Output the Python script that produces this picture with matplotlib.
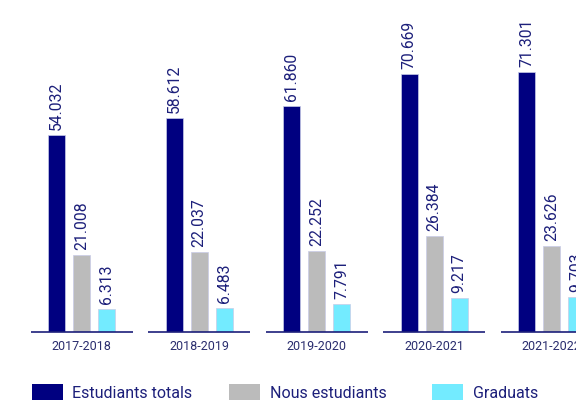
import matplotlib
matplotlib.use("Agg")
import matplotlib.pyplot as plt
from matplotlib.patches import Rectangle
import numpy as np

# ---- data ----
years = ["2017-2018", "2018-2019", "2019-2020", "2020-2021", "2021-2022"]
total_students = [54032, 58612, 61860, 70669, 71301]
new_students = [21008, 22037, 22252, 26384, 23626]
graduates = [6313, 6483, 7791, 9217, 9703]
series_names = ["Estudiants totals", "Nous estudiants", "Graduats"]

colors = ["#000080", "#BBBBBB", "#73EBFF"]
label_color = "#1C1F7A"
plt.rcParams['font.family'] = ['Roboto', 'DejaVu Sans']

W, H = 576, 403
fig = plt.figure(figsize=(W / 100, H / 100), dpi=100)
base_px = 332          # baseline from top
group_px = 117.5       # group spacing in px
center0_px = 81.5      # first group center
ax = fig.add_axes([0, (H - base_px) / H, 1, base_px / H])
ax.set_xlim(-center0_px / group_px, (W - center0_px) / group_px)
ax.set_ylim(0, base_px / 3.65 * 1000)

x = np.arange(len(years))
step = 25 / group_px
bw = 17 / group_px
for k, (vals, c) in enumerate(zip([total_students, new_students, graduates], colors)):
    xs = x + (k - 1) * step
    bars = ax.bar(xs, vals, width=bw, color=c, edgecolor="#C8CCE8", linewidth=0.5,
                  label=series_names[k])
    for xi, v in zip(xs, vals):
        ax.annotate(f"{v:,}".replace(",", "."), (xi, v), xytext=(0, 5),
                    textcoords="offset pixels", rotation=90, ha="center", va="bottom",
                    fontsize=11.3, color=label_color, annotation_clip=False)

half = 51 / group_px
ax.hlines([0] * len(x), x - half, x + half, colors="#1C1F7A", linewidth=1.2, clip_on=False)

for s in ax.spines.values():
    s.set_visible(False)
ax.set_yticks([])
ax.set_xticks(x)
ax.set_xticklabels(years, fontsize=9, color="#2A2D6E")
ax.tick_params(axis="x", length=0, pad=6)

# legend (manual layout)
leg_items = [(32, 72), (229, 270), (432, 473)]
for (px, tx), name, c in zip(leg_items, series_names, colors):
    fig.patches.append(Rectangle((px / W, (H - 400) / H), 31 / W, 16 / H,
                                 transform=fig.transFigure, facecolor=c, edgecolor="none"))
    fig.text(tx / W, (H - 393) / H, name, fontsize=11.5, color=label_color,
             ha="left", va="center")

fig.savefig("out.png", dpi=100)
